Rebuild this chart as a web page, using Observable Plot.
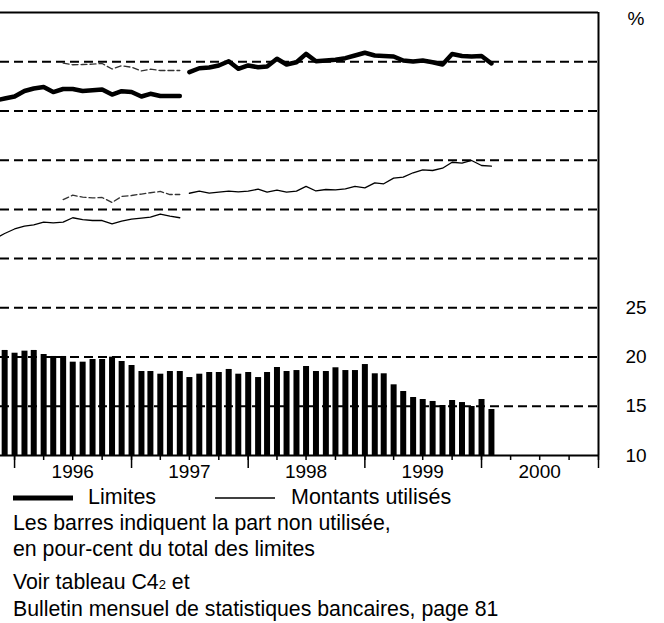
<!DOCTYPE html>
<html>
<head>
<meta charset="utf-8">
<script src="https://cdn.jsdelivr.net/npm/d3@7"></script>
<script src="https://cdn.jsdelivr.net/npm/@observablehq/plot@0.6"></script>
<style>
  html, body { margin: 0; padding: 0; background: #fff; }
  body { width: 664px; height: 623px; overflow: hidden; font-family: "Liberation Sans", Arial, sans-serif; color: #000; }
  #chart svg { display: block; }
  .legend { position: relative; height: 26px; font-size: 21.5px; line-height: 26px; }
  .legend span { position: absolute; top: 0; white-space: nowrap; }
  .legend svg { position: absolute; top: 11px; }
  .cap { margin-left: 13px; font-size: 21.3px; line-height: 26px; white-space: nowrap; }
  .cap2 { margin-top: 8px; line-height: 25px; }
  .small { font-size: 13px; }
</style>
</head>
<body>
<div id="chart"></div>
<div class="legend">
  <svg style="left:13px" width="60" height="6"><line x1="0" x2="60" y1="3" y2="3" stroke="#000" stroke-width="5"/></svg>
  <span style="left:88px">Limites</span>
  <svg style="left:215px" width="60" height="6"><line x1="0" x2="60" y1="3" y2="3" stroke="#000" stroke-width="1.3"/></svg>
  <span style="left:291px">Montants utilisés</span>
</div>
<div class="cap">Les barres indiquent la part non utilisée,<br>en pour-cent du total des limites</div>
<div class="cap cap2">Voir tableau C4<span class="small">2</span> et<br>Bulletin mensuel de statistiques bancaires, page 81</div>
<script>
// ---- Data (month-end values) ----
// Unused share of limits, % (bars), Nov 1995 .. Jan 2000
const barsStart = "1995-11";
const unusedShare = [20.67, 20.39, 20.6, 20.67, 20.26, 20.06, 20.06, 19.48, 19.48, 19.75, 19.75, 19.99,
  19.55, 19.14, 18.53, 18.53, 18.26, 18.53, 18.53, 17.92, 18.26, 18.43, 18.43, 18.74,
  18.26, 18.43, 17.92, 18.43, 18.94, 18.53, 18.63, 19.04, 18.53, 18.53, 18.91, 18.63,
  18.63, 19.24, 18.3, 18.3, 17.18, 16.5, 15.89, 15.69, 15.49, 15.08, 15.59, 15.38,
  14.98, 15.69, 14.67];

// Limits (thick line), in chart units; old series Oct 1995 .. May 1997
const limitsOldStart = "1995-10";
const limitsOld = [46.06, 46.26, 46.47, 47.03, 47.28, 47.43, 46.92, 47.23, 47.23, 47.03,
  47.10, 47.18, 46.67, 47.01, 46.92, 46.47, 46.74, 46.52, 46.52, 46.52];
// Limits, new series back-data May 1996 .. May 1997 (dashed)
const limitsBackStart = "1996-05";
const limitsBack = [49.85, 49.69, 49.72, 49.75, 49.82, 49.26, 49.59, 49.44, 49.06, 49.24, 49.11, 49.11, 49.11];
// Limits, new series Jun 1997 .. Jan 2000
const limitsNewStart = "1997-06";
const limitsNew = [48.94, 49.34, 49.41, 49.62, 50.05, 49.28, 49.62, 49.44, 49.51, 50.30, 49.72, 49.95,
  50.80, 50.05, 50.12, 50.20, 50.36, 50.63, 50.91, 50.63, 50.58, 50.53, 50.12, 50.02,
  50.12, 49.95, 49.72, 50.78, 50.58, 50.53, 50.58, 49.82];

// Amounts used (thin line); old series Oct 1995 .. May 1997
const usedOldStart = "1995-10";
const usedOld = [32.04, 32.55, 33.01, 33.31, 33.43, 33.70, 33.64, 33.70, 34.15, 33.97,
  33.87, 33.87, 33.54, 33.80, 34.02, 34.11, 34.21, 34.53, 34.31, 34.15];
const usedBackStart = "1996-05";
const usedBack = [36.00, 36.44, 36.24, 36.16, 36.21, 35.70, 36.31, 36.41, 36.56, 36.69, 36.82, 36.51, 36.51];
const usedNewStart = "1997-06";
const usedNew = [36.64, 36.85, 36.66, 36.75, 36.85, 36.77, 36.85, 37.05, 36.75, 36.95, 36.75, 36.85,
  37.33, 36.87, 37.02, 36.99, 37.09, 37.33, 37.19, 37.70, 37.60, 38.17, 38.27, 38.72,
  39.02, 38.95, 39.18, 39.79, 39.69, 39.97, 39.46, 39.39];

// Axis
const gridLevels = [15, 20, 25, 30, 35, 40, 45, 50];
const frameLevels = [10, 55];
const rightTicks = [10, 15, 20, 25];
const years = [1996, 1997, 1998, 1999, 2000, 2001];
const yearLabels = [1996, 1997, 1998, 1999, 2000];

// ---- helpers ----
const monthEnd = (start, i) => {
  const [y, m] = start.split("-").map(Number);
  return new Date(Date.UTC(y, m - 1 + i + 1, 1));
};
const series = (start, values) => values.map((v, i) => ({date: monthEnd(start, i), value: v}));

const barsData = series(barsStart, unusedShare);
const xStart = new Date(Date.UTC(1995, 10, 18));
const xEnd = new Date(Date.UTC(2001, 0, 1));
const yearDates = years.map(y => new Date(Date.UTC(y, 0, 1)));
const quarterDates = d3.utcMonth.every(3).range(new Date(Date.UTC(1996, 0, 1)), new Date(Date.UTC(2001, 0, 2)));
const midYears = yearLabels.map(y => new Date(Date.UTC(y, 6, 1)));

const chart = Plot.plot({
  width: 664,
  height: 484,
  marginLeft: 0,
  marginRight: 66,
  marginTop: 12,
  marginBottom: 29,
  style: {fontFamily: "'Liberation Sans', Arial, sans-serif", fontSize: "19px", color: "#000", background: "#fff"},
  x: {type: "utc", domain: [xStart, xEnd]},
  y: {domain: [10, 55], label: null},
  marks: [
    Plot.ruleY(gridLevels, {stroke: "#000", strokeWidth: 2, strokeDasharray: "9,5"}),
    Plot.ruleX(barsData, {x: "date", y1: 10, y2: "value", stroke: "#000", strokeWidth: 6, clip: true}),
    Plot.lineY(series(limitsOldStart, limitsOld), {x: "date", y: "value", stroke: "#000", strokeWidth: 4.5, clip: true}),
    Plot.lineY(series(limitsBackStart, limitsBack), {x: "date", y: "value", stroke: "#333", strokeWidth: 1.3, strokeDasharray: "6,3"}),
    Plot.lineY(series(limitsNewStart, limitsNew), {x: "date", y: "value", stroke: "#000", strokeWidth: 4.5}),
    Plot.lineY(series(usedOldStart, usedOld), {x: "date", y: "value", stroke: "#000", strokeWidth: 1.3, clip: true}),
    Plot.lineY(series(usedBackStart, usedBack), {x: "date", y: "value", stroke: "#333", strokeWidth: 1.3, strokeDasharray: "6,3"}),
    Plot.lineY(series(usedNewStart, usedNew), {x: "date", y: "value", stroke: "#000", strokeWidth: 1.3}),
    Plot.ruleY(frameLevels, {stroke: "#000", strokeWidth: 2}),
    Plot.ruleX([xEnd], {stroke: "#000", strokeWidth: 2}),
    Plot.axisX({ticks: quarterDates, tickSize: 5, tickFormat: () => "", strokeWidth: 1.5}),
    Plot.axisX({ticks: yearDates, tickSize: 13, tickFormat: () => "", strokeWidth: 1.5}),
    Plot.axisX({ticks: midYears, tickSize: 0, tickPadding: 9, tickFormat: "%Y", fontSize: 19}),
    Plot.axisY({anchor: "right", ticks: rightTicks, tickSize: 0, tickPadding: 27, tickFormat: d => String(d), fontSize: 19, label: null}),
    Plot.text(["%"], {frameAnchor: "top-right", dx: 29, dy: -1, textAnchor: "start", fontSize: 19})
  ]
});
document.getElementById("chart").appendChild(chart);
</script>
</body>
</html>
